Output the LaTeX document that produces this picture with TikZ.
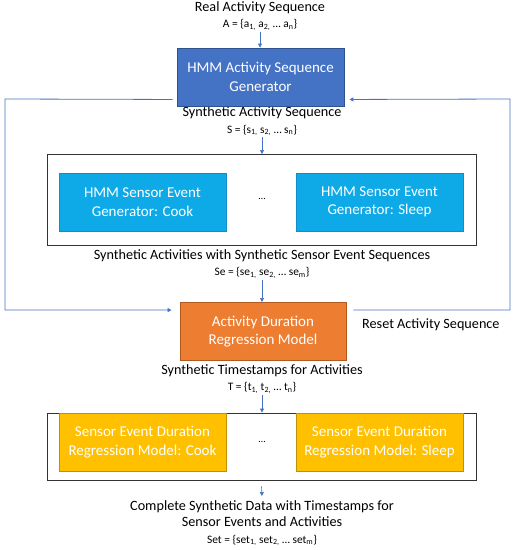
\documentclass[tikz,border=0pt]{standalone}
\usepackage{fontspec}
\setmainfont{Carlito}
\usetikzlibrary{arrows.meta,positioning,calc}

\definecolor{genblue}{RGB}{68,114,196}
\definecolor{genedge}{RGB}{47,82,143}
\definecolor{sensorcyan}{RGB}{14,170,232}
\definecolor{sensoredge}{RGB}{20,140,200}
\definecolor{durorange}{RGB}{237,125,49}
\definecolor{duredge}{RGB}{174,90,33}
\definecolor{evyellow}{RGB}{255,192,0}
\definecolor{evedge}{RGB}{191,144,0}
\definecolor{loopblue}{RGB}{160,180,218}

\newcommand{\sbs}[1]{\textsubscript{#1}}
\newcommand{\fml}{\fontsize{11.4}{13}\selectfont}

\begin{document}
\begin{tikzpicture}[x=1pt, y=-1pt, >={Triangle[length=4pt,width=4pt]},
  blk/.style={minimum width=167pt, minimum height=58pt, inner sep=0pt,
    align=center, text=white, font=\fontsize{15}{18.5}\selectfont, line width=0.9pt},
  frame/.style={draw=black!80, line width=0.8pt, minimum width=429pt, inner sep=0pt},
  lbl/.style={align=center, inner sep=1pt, font=\fontsize{14.2}{16.5}\selectfont},
  flow/.style={->, draw=genblue!80, color=genblue, line width=0.6pt},
  back/.style={->, draw=loopblue, color=genblue, line width=0.8pt}]

  % margins
  \useasboundingbox (0,0) rectangle (514,550);

  % labels between the stages
  \node[lbl] (real) at (260,16)
    {Real Activity Sequence\\{\fml A = \{a\sbs{1,} a\sbs{2,} … a\sbs{n}\}}};
  \node[lbl] (synact) at (262,121.5)
    {Synthetic Activity Sequence\\{\fml S = \{s\sbs{1,} s\sbs{2,} … s\sbs{n}\}}};
  \node[lbl] (synev) at (262,264)
    {Synthetic Activities with Synthetic Sensor Event Sequences\\{\fml Se = \{se\sbs{1,} se\sbs{2,} … se\sbs{m}\}}};
  \node[lbl] (synts) at (262,379)
    {Synthetic Timestamps for Activities\\{\fml T = \{t\sbs{1,} t\sbs{2,} … t\sbs{n}\}}};
  \node[lbl] (complete) at (262,523)
    {Complete Synthetic Data with Timestamps for\\Sensor Events and Activities\\{\fml Set = \{set\sbs{1,} set\sbs{2,} … set\sbs{m}\}}};
  \node[lbl, anchor=west] (reset) at (361,325) {Reset Activity Sequence};

  % generators
  \node[blk, fill=genblue, draw=genedge] (gen) at (260.5,77) {HMM Activity Sequence\\Generator};
  \node[frame, minimum height=91pt] (outer1) at (261.5,200) {};
  \node[blk, fill=sensorcyan, draw=sensoredge] (cook) at (142.5,202) {HMM Sensor Event\\Generator: Cook};
  \node[blk, fill=sensorcyan, draw=sensoredge] (sleep) at (379.5,202) {HMM Sensor Event\\Generator: Sleep};
  \node (dots1) at (262,199) {…};

  % regression models
  \node[blk, minimum width=166pt, fill=durorange, draw=duredge] (dur) at (263,331.5) {Activity Duration\\Regression Model};
  \node[frame, minimum height=67pt] (outer2) at (261.5,446.5) {};
  \node[blk, fill=evyellow, draw=evedge] (cookdur) at (142.5,442) {Sensor Event Duration\\Regression Model: Cook};
  \node[blk, fill=evyellow, draw=evedge] (sleepdur) at (379.5,442) {Sensor Event Duration\\Regression Model: Sleep};
  \node (dots2) at (262,442) {…};

  % main flow
  \draw[flow] (real.south) -- (real.south |- gen.north);
  \draw[flow] (synact.south) -- (synact.south |- outer1.north);
  \draw[flow] (synev.south) -- (synev.south |- dur.north);
  \draw[flow] (synts.south) -- (synts.south |- outer2.north);
  \draw[flow] ([yshift=-6pt]outer2.south) -- ([yshift=3pt]complete.north);

  % loops
  \coordinate (lcorner) at (5,99);
  \coordinate (rcorner) at (510,99);
  \draw[back] ([xshift=-4pt,yshift=7pt]gen.south west) -- (lcorner)
    |- ([xshift=-8pt,yshift=-8pt]dur.north west);
  \draw[back] ([xshift=7pt,yshift=-8pt]dur.north east) -| (rcorner)
    -- ([xshift=5pt,yshift=7pt]gen.south east);
\end{tikzpicture}
\end{document}
